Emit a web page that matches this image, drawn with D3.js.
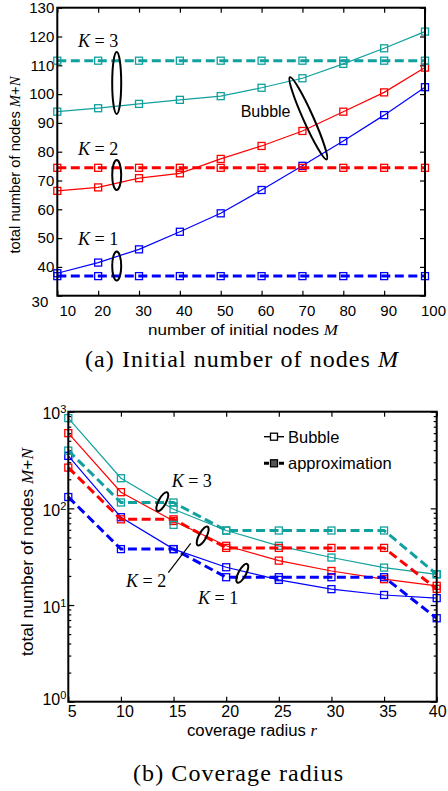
<!DOCTYPE html>
<html><head><meta charset="utf-8">
<script src="https://cdn.jsdelivr.net/npm/d3@7"></script>
<style>body{margin:0;background:#fff}svg{display:block}</style>
</head><body>
<svg id="c" width="448" height="791"></svg>
<script>
// ---------- DATA ----------
// (a) Initial number of nodes M
const topX = [10, 20, 30, 40, 50, 60, 70, 80, 90, 100];
const topYTicks = [30, 40, 50, 60, 70, 80, 90, 100, 110, 120, 130];
const topBubbleK1 = [37.8, 41.5, 46.1, 52.2, 58.6, 66.7, 75.1, 83.7, 92.7, 102.4];
const topBubbleK2 = [66.4, 67.6, 70.8, 72.5, 77.5, 82.0, 87.2, 93.9, 100.6, 109.2];
const topBubbleK3 = [93.9, 95.1, 96.6, 98.0, 99.3, 102.2, 105.5, 110.5, 115.9, 121.7];
const topApproxK1 = [36.8, 36.8, 36.8, 36.8, 36.8, 36.8, 36.8, 36.8, 36.8, 36.8];
const topApproxK2 = [74.4, 74.4, 74.4, 74.4, 74.4, 74.4, 74.4, 74.4, 74.4, 74.4];
const topApproxK3 = [111.6, 111.6, 111.6, 111.6, 111.6, 111.6, 111.6, 111.6, 111.6, 111.6];

// (b) Coverage radius r
const botX = [5, 10, 15, 20, 25, 30, 35, 40];
const botYTicks = [1, 10, 100, 1000];
const botBubbleK1 = [349, 81, 37.9, 24.6, 18.2, 14.6, 12.7, 11.8];
const botBubbleK2 = [600, 147, 74, 41, 28.8, 22.5, 18.5, 15.8];
const botBubbleK3 = [859, 205, 98, 59, 41, 31, 24.4, 20.8];
const botApproxK1 = [131, 37.9, 37.9, 19.4, 19.4, 19.4, 19.4, 7.3];
const botApproxK2 = [264, 77, 77, 39, 39, 39, 39, 14.7];
const botApproxK3 = [396, 115, 115, 59, 59, 59, 59, 20.8];
const botStrayX = [15];
const botStrayK3 = [67.5];

const legendLabels = ["Bubble", "approximation"];

// ---------- STYLE ----------
const C_BLUE = "#0000ff", C_RED = "#ff0000", C_CYAN = "#10a19f";
const SANS = "'Liberation Sans', Arial, sans-serif";
const SERIF = "'Liberation Serif', 'Times New Roman', serif";
const svg = d3.select("#c");

function series(g, x, y, xs, ys, color, dashed) {
  const pts = xs.map((d, i) => [d, ys[i]]);
  g.append("path")
    .attr("d", d3.line().x(d => x(d[0])).y(d => y(d[1]))(pts))
    .attr("fill", "none").attr("stroke", color)
    .attr("stroke-width", dashed ? 3 : 1.2)
    .attr("stroke-dasharray", dashed ? "9,4.5" : null);
  markers(g, x, y, pts, color);
}
function markers(g, x, y, pts, color) {
  const s = 7;
  g.selectAll(null).data(pts).enter().append("rect")
    .attr("x", d => x(d[0]) - s / 2).attr("y", d => y(d[1]) - s / 2)
    .attr("width", s).attr("height", s)
    .attr("fill", "none").attr("stroke", color).attr("stroke-width", 1.3);
}
function styleAxis(g) {
  g.select(".domain").remove();
  g.selectAll(".tick line").attr("stroke", "#000").attr("stroke-width", 1.2);
  g.selectAll(".tick text").attr("fill", "#000").attr("font-family", SANS);
}
function mathText(t, parts) {
  parts.forEach(p => {
    const s = t.append("tspan").text(p.t);
    if (p.i) s.attr("font-family", SERIF).attr("font-style", "italic");
  });
}

// ---------- PANEL (a) ----------
{
  const L = 57.3, R = 425, T = 7.7, B = 295.7;
  const x = d3.scaleLinear().domain([10, 100]).range([L, R]);
  const y = d3.scaleLinear().domain([30, 130]).range([B, T]);
  const g = svg.append("g");

  const n = topX.length;
  const ax = g.append("g").attr("transform", `translate(0,${B})`)
    .call(d3.axisBottom(x).tickValues(topX).tickSize(-5).tickPadding(10));
  styleAxis(ax);
  ax.selectAll(".tick text").attr("font-size", 15)
    .attr("dx", (d, i) => i === 0 ? 10 : (i === n - 1 ? 8 : 4));
  styleAxis(g.append("g").attr("transform", `translate(0,${T})`)
    .call(d3.axisTop(x).tickValues(topX).tickSize(-5).tickFormat("")));
  const ay = g.append("g").attr("transform", `translate(${L},0)`)
    .call(d3.axisLeft(y).tickValues(topYTicks).tickSize(-5).tickPadding(3));
  styleAxis(ay);
  ay.selectAll(".tick text").attr("font-size", 15)
    .attr("dy", (d, i) => i === 0 ? "0.7em" : "0.32em")
    .attr("dx", (d, i) => i === 0 ? -6 : 0);
  styleAxis(g.append("g").attr("transform", `translate(${R},0)`)
    .call(d3.axisRight(y).tickValues(topYTicks).tickSize(-5).tickFormat("")));

  series(g, x, y, topX, topBubbleK3, C_CYAN, false);
  series(g, x, y, topX, topBubbleK2, C_RED, false);
  series(g, x, y, topX, topBubbleK1, C_BLUE, false);
  series(g, x, y, topX, topApproxK3, C_CYAN, true);
  series(g, x, y, topX, topApproxK2, C_RED, true);
  series(g, x, y, topX, topApproxK1, C_BLUE, true);

  g.append("rect").attr("x", L).attr("y", T).attr("width", R - L).attr("height", B - T)
    .attr("fill", "none").attr("stroke", "#000").attr("stroke-width", 2);

  // annotations
  const kLab = [["K = 3", 46.7], ["K = 2", 155], ["K = 1", 245]];
  kLab.forEach(([s, by]) => {
    const t = g.append("text").attr("x", 78).attr("y", by).attr("font-family", SERIF)
      .attr("font-style", "italic").attr("font-size", 18);
    t.append("tspan").text("K");
    t.append("tspan").attr("font-style", "normal").text(s.slice(1));
  });
  [[116.7, 83, 4.5, 31], [116.7, 175, 4.5, 15], [116.7, 266, 4.5, 14.5]].forEach(([cx, cy, rx, ry]) => {
    g.append("ellipse").attr("cx", cx).attr("cy", cy).attr("rx", rx).attr("ry", ry)
      .attr("fill", "none").attr("stroke", "#000").attr("stroke-width", 2);
  });
  g.append("ellipse").attr("cx", 0).attr("cy", 0).attr("rx", 45).attr("ry", 5)
    .attr("transform", "translate(308.3,118.3) rotate(65.9)")
    .attr("fill", "none").attr("stroke", "#000").attr("stroke-width", 2);
  g.append("text").attr("x", 240.7).attr("y", 116.7).attr("font-family", SANS)
    .attr("font-size", 16).text("Bubble");

  const xl = g.append("text").attr("x", 243).attr("y", 335).attr("text-anchor", "middle")
    .attr("font-family", SANS).attr("font-size", 15)
    .attr("textLength", 190).attr("lengthAdjust", "spacingAndGlyphs");
  mathText(xl, [{t: "number of initial nodes "}, {t: "M", i: 1}]);
  const yl = g.append("text").attr("transform", "translate(20,165) rotate(-90)")
    .attr("text-anchor", "middle").attr("font-family", SANS).attr("font-size", 14.5)
    .attr("textLength", 177).attr("lengthAdjust", "spacingAndGlyphs");
  mathText(yl, [{t: "total number of nodes "}, {t: "M", i: 1}, {t: "+"}, {t: "N", i: 1}]);

  const cap = g.append("text").attr("x", 241.5).attr("y", 367).attr("text-anchor", "middle")
    .attr("font-family", SERIF).attr("font-size", 24)
    .attr("textLength", 313).attr("lengthAdjust", "spacing");
  mathText(cap, [{t: "(a) Initial number of nodes "}, {t: "M", i: 1}]);
}

// ---------- PANEL (b) ----------
{
  const L = 68.3, R = 436.7, T = 411.7, B = 701.7;
  const x = d3.scaleLinear().domain([5, 40]).range([L, R]);
  const y = d3.scaleLog().domain([1, 1000]).range([B, T]);
  const g = svg.append("g");

  const nb = botX.length;
  const ax = g.append("g").attr("transform", `translate(0,${B})`)
    .call(d3.axisBottom(x).tickValues(botX).tickSize(-5).tickPadding(4));
  styleAxis(ax);
  ax.selectAll(".tick text").attr("font-size", 16)
    .attr("dx", (d, i) => i === nb - 1 ? 0.5 : 3.5);
  styleAxis(g.append("g").attr("transform", `translate(0,${T})`)
    .call(d3.axisTop(x).tickValues(botX).tickSize(-5).tickFormat("")));

  const minor = [];
  [1, 10, 100].forEach(dec => [2, 3, 4, 5, 6, 7, 8, 9].forEach(m => minor.push(dec * m)));
  const ay = g.append("g").attr("transform", `translate(${L},0)`)
    .call(d3.axisLeft(y).tickValues(botYTicks).tickSize(-6).tickPadding(2));
  styleAxis(ay);
  ay.selectAll(".tick text").attr("font-size", 16).each(function (d) {
    const t = d3.select(this).text("");
    t.append("tspan").text("10");
    t.append("tspan").attr("dy", "-0.55em").attr("font-size", 11).text(Math.round(Math.log10(d)));
  });
  ay.selectAll(".tick text").attr("dy", (d, i) => i === 0 ? "0.15em" : "0.45em");
  styleAxis(g.append("g").attr("transform", `translate(${L},0)`)
    .call(d3.axisLeft(y).tickValues(minor).tickSize(-3).tickFormat("")));
  styleAxis(g.append("g").attr("transform", `translate(${R},0)`)
    .call(d3.axisRight(y).tickValues(botYTicks).tickSize(-6).tickFormat("")));
  styleAxis(g.append("g").attr("transform", `translate(${R},0)`)
    .call(d3.axisRight(y).tickValues(minor).tickSize(-3).tickFormat("")));

  series(g, x, y, botX, botBubbleK3, C_CYAN, false);
  series(g, x, y, botX, botBubbleK2, C_RED, false);
  series(g, x, y, botX, botBubbleK1, C_BLUE, false);
  series(g, x, y, botX, botApproxK3, C_CYAN, true);
  series(g, x, y, botX, botApproxK2, C_RED, true);
  series(g, x, y, botX, botApproxK1, C_BLUE, true);
  markers(g, x, y, botStrayX.map((d, i) => [d, botStrayK3[i]]), C_CYAN);

  g.append("rect").attr("x", L).attr("y", T).attr("width", R - L).attr("height", B - T)
    .attr("fill", "none").attr("stroke", "#000").attr("stroke-width", 2);

  // legend
  const lg = g.append("g");
  [[436.7, false], [463.3, true]].forEach(([ly, dashed], i) => {
    if (dashed) {
      lg.append("line").attr("x1", 264).attr("x2", 284).attr("y1", ly).attr("y2", ly)
        .attr("stroke", "#000").attr("stroke-width", 3).attr("stroke-dasharray", "5,2,6,2,5");
    } else {
      lg.append("line").attr("x1", 264).attr("x2", 284).attr("y1", ly).attr("y2", ly)
        .attr("stroke", "#000").attr("stroke-width", 1.4);
    }
    lg.append("rect").attr("x", 274 - 3.5).attr("y", ly - 3.5).attr("width", 7).attr("height", 7)
      .attr("fill", dashed ? "#555" : "#fff").attr("stroke", "#000").attr("stroke-width", 1.3);
    lg.append("text").attr("x", 288).attr("y", ly + 6).attr("font-family", SANS)
      .attr("font-size", 16.5).text(legendLabels[i]);
  });

  // annotations
  [["K = 3", 171.7, 487.3], ["K = 2", 126, 587.3], ["K = 1", 198, 604]].forEach(([s, ax0, by]) => {
    const t = g.append("text").attr("x", ax0).attr("y", by).attr("font-family", SERIF)
      .attr("font-style", "italic").attr("font-size", 18);
    t.append("tspan").text("K");
    t.append("tspan").attr("font-style", "normal").text(s.slice(1));
  });
  [[162.3, 501.7], [202.7, 536], [242.3, 573.3]].forEach(([cx, cy]) => {
    g.append("ellipse").attr("rx", 3.8).attr("ry", 10.5)
      .attr("transform", `translate(${cx},${cy}) rotate(28)`)
      .attr("fill", "none").attr("stroke", "#000").attr("stroke-width", 2);
  });
  g.append("line").attr("x1", 190.7).attr("y1", 543.3).attr("x2", 168.3).attr("y2", 572.7)
    .attr("stroke", "#000").attr("stroke-width", 1.2);

  const xl = g.append("text").attr("x", 252).attr("y", 736).attr("text-anchor", "middle")
    .attr("font-family", SANS).attr("font-size", 16)
    .attr("textLength", 130).attr("lengthAdjust", "spacingAndGlyphs");
  mathText(xl, [{t: "coverage radius "}, {t: "r", i: 1}]);
  const yl = g.append("text").attr("transform", "translate(33,552) rotate(-90)")
    .attr("text-anchor", "middle").attr("font-family", SANS).attr("font-size", 16.5)
    .attr("textLength", 208).attr("lengthAdjust", "spacingAndGlyphs");
  mathText(yl, [{t: "total number of nodes "}, {t: "M", i: 1}, {t: "+"}, {t: "N", i: 1}]);

  g.append("text").attr("x", 238).attr("y", 781).attr("text-anchor", "middle")
    .attr("font-family", SERIF).attr("font-size", 24)
    .attr("textLength", 210).attr("lengthAdjust", "spacing").text("(b) Coverage radius");
}
</script>
</body></html>
